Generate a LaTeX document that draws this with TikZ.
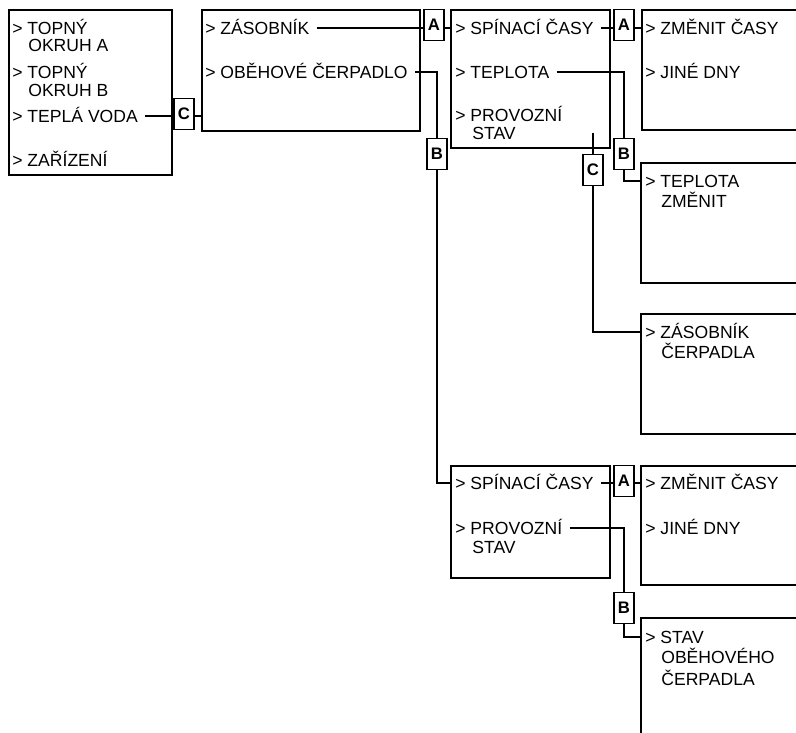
\documentclass[tikz,border=0pt]{standalone}
\usepackage{fontspec}
\setmainfont{Liberation Sans}
\usepackage{tikz}

\begin{document}
\begin{tikzpicture}[
    x=0.02cm, y=-0.02cm,
    menu/.style={draw, line width=1.1pt, anchor=north west, minimum width=4cm, inner sep=0pt},
    item/.style={font=\fontsize{10}{12}\selectfont, anchor=west, inner sep=0pt, text height=7.2pt, text depth=0pt},
    key/.style={draw, line width=1.1pt, font=\bfseries\fontsize{9.5}{9.5}\selectfont, minimum width=0.4cm, minimum height=0.62cm, inner sep=0pt},
    wire/.style={line width=1.1pt},
    fromtxt/.style={wire, shorten <=4pt}
]
    \clip (0,0) rectangle (796,733);

    % boxes
    \node[menu, minimum width=3.26cm, minimum height=3.3cm] (M1) at (8,9) {};
    \node[menu, minimum width=4.36cm, minimum height=2.42cm] (M2) at (201,9) {};
    \node[menu, minimum width=3.18cm, minimum height=2.76cm] (M3) at (450,9) {};
    \node[menu, minimum height=2.4cm] (M4) at (641,9) {};
    \node[menu, minimum height=2.4cm] (M5) at (640,162) {};
    \node[menu, minimum height=2.4cm] (M6) at (640,313) {};
    \node[menu, minimum width=3.18cm, minimum height=2.24cm] (M7) at (450,465) {};
    \node[menu, minimum height=2.38cm] (M8) at (640,465) {};
    \node[menu, minimum height=4cm] (M9) at (640,617) {};

    % menu items
    \node[item] (topA) at (12,28) {> TOPNÝ};
    \node[item] (okA) at (28,45) {OKRUH A};
    \node[item] (topB) at (12,72) {> TOPNÝ};
    \node[item] (okB) at (28,90) {OKRUH B};
    \node[item] (tepla) at (12,116) {> TEPLÁ VODA};
    \node[item] (zar) at (12,160) {> ZAŘÍZENÍ};

    \node[item] (zas) at (205,28) {> ZÁSOBNÍK};
    \node[item] (obeh) at (205,72) {> OBĚHOVÉ ČERPADLO};

    \node[item] (spinA) at (455,28) {> SPÍNACÍ ČASY};
    \node[item] (teplA) at (455,72) {> TEPLOTA};
    \node[item] (provA) at (455,115) {> PROVOZNÍ};
    \node[item] (stavA) at (472,133) {STAV};

    \node[item] (zmenA) at (645,28) {> ZMĚNIT ČASY};
    \node[item] (jineA) at (645,72) {> JINÉ DNY};

    \node[item] (teplZ) at (645,181) {> TEPLOTA};
    \node[item] (zmenZ) at (661,201) {ZMĚNIT};

    \node[item] (zasC) at (645,332) {> ZÁSOBNÍK};
    \node[item] (cerpC) at (661,352) {ČERPADLA};

    \node[item] (spinB) at (455,483) {> SPÍNACÍ ČASY};
    \node[item] (provB) at (455,528) {> PROVOZNÍ};
    \node[item] (stavB) at (472,547) {STAV};

    \node[item] (zmenB) at (645,483) {> ZMĚNIT ČASY};
    \node[item] (jineB) at (645,528) {> JINÉ DNY};

    \node[item] (stavO) at (645,637) {> STAV};
    \node[item] (obehO) at (661,657) {OBĚHOVÉHO};
    \node[item] (cerpO) at (661,679) {ČERPADLA};

    % keys
    \node[key] (C1) at (184,114) {C};
    \node[key] (A1) at (434,25) {A};
    \node[key] (B1) at (437,154) {B};
    \node[key] (A2) at (624,25) {A};
    \node[key] (B2) at (624,154) {B};
    \node[key] (C2) at (593,170) {C};
    \node[key] (A3) at (624,481) {A};
    \node[key] (B3) at (624,608) {B};
    \coordinate (cstart) at (593,133);

    % connectors
    \draw[fromtxt] (tepla.east) -- (C1.west |- tepla);
    \draw[wire] (C1.east |- tepla) -- (M2.west |- tepla);
    \draw[fromtxt] (zas.east) -- (A1.west |- zas);
    \draw[wire] (A1.east |- zas) -- (M3.west |- zas);
    \draw[fromtxt] (obeh.east) -| (B1.north);
    \draw[wire] (B1.south) |- (M7.west |- spinB);
    \draw[fromtxt] (spinA.east) -- (A2.west |- spinA);
    \draw[wire] (A2.east |- spinA) -- (M4.west |- spinA);
    \draw[fromtxt] (teplA.east) -| (B2.north);
    \draw[wire] (B2.south) |- (M5.west |- teplZ);
    \draw[wire] (cstart) -- (C2.north);
    \draw[wire] (C2.south) |- (M6.west |- zasC);
    \draw[fromtxt] (spinB.east) -- (A3.west |- spinB);
    \draw[wire] (A3.east |- spinB) -- (M8.west |- spinB);
    \draw[fromtxt] (provB.east) -| (B3.north);
    \draw[wire] (B3.south) |- (M9.west |- stavO);
\end{tikzpicture}
\end{document}
